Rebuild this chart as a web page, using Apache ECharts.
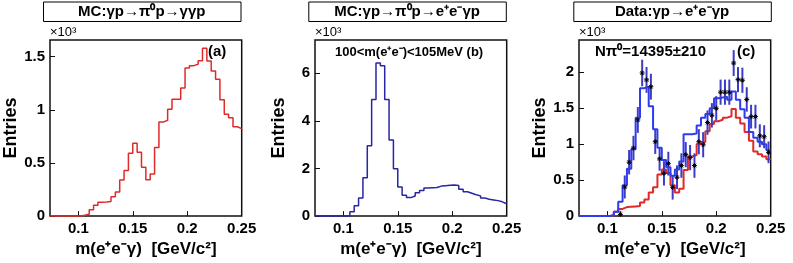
<!DOCTYPE html>
<html><head><meta charset="utf-8">
<script src="https://cdn.jsdelivr.net/npm/echarts@6/dist/echarts.min.js"></script>
<style>html,body{margin:0;padding:0;background:#fff}#c{width:793px;height:263px}</style>
</head><body><div id="c"></div>
<script>
// Binning (44 bins of 4 MeV from 0.074 to 0.25 GeV)
const binMin = 0.074, binWidth = 0.004, nBins = 44;
const xMin = 0.074, xMax = 0.25;
const xTicks = [0.1, 0.15, 0.2, 0.25];
const yTicksA = [0, 500, 1000, 1500];
const yTicksB = [0, 2000, 4000, 6000];
const yTicksC = [0, 500, 1000, 1500, 2000];
const yMaxA = 1656, yMaxB = 7400, yMaxC = 2450;

// (a) MC pi0 -> gamma gamma
const histA = [0,0,0,0,0,0,0,8,18,60,103,130,133,138,181,227,339,429,591,684,600,460,342,395,645,885,900,1005,1100,1100,1205,1392,1415,1428,1462,1578,1458,1365,1288,1095,957,926,840,823];
// (b) MC pi0 -> e+e- gamma
const histB = [0,0,0,0,0,0,0,15,180,430,764,1611,2958,4903,6431,6320,4903,3194,1986,1222,875,778,847,986,1080,1180,1190,1200,1260,1280,1300,1310,1290,1125,1020,960,900,850,760,710,680,650,600,520];
// (c) background (red) and total fit (blue)
const histCred = [0,0,0,0,0,0,0,10,60,100,125,130,135,140,190,230,330,400,580,650,600,430,330,380,640,830,850,1000,1030,1180,1280,1320,1340,1370,1390,1490,1370,1290,1170,1050,900,860,830,790];
const histCblue = [0,0,0,0,0,0,0,15,60,200,430,660,930,1370,1780,1800,1530,1210,950,780,680,560,650,760,1140,1140,1150,1260,1370,1420,1500,1640,1650,1660,1620,1735,1620,1485,1370,1170,1090,1035,1000,920];
// (c) data points, first point is in bin index 9
const dataFirstBin = 9;
const dataC = [23,405,750,947,1338,1991,1895,1800,1035,796,595,730,400,540,703,855,814,703,1035,993,1301,1402,1499,1724,1724,1724,2129,1899,1890,1623,1384,1384,1117,1104,887];
const dataCerr = [50,160,170,170,180,185,180,180,170,165,170,165,170,165,170,175,175,170,175,175,170,170,170,175,175,175,180,175,175,170,165,165,160,160,150];

const titles = ['MC:γp→π⁰p→γγp', 'MC:γp→π⁰p→e⁺e⁻γp', 'Data:γp→e⁺e⁻γp'];
const xTitle = 'm(e⁺e⁻γ)  [GeV/c²]';
const yTitle = 'Entries';

const FONT = '"Liberation Sans", Arial, Helvetica, sans-serif';
const edges = Array.from({length: nBins + 1}, (_, i) => +(binMin + i * binWidth).toFixed(4));
function stepData(vals) {
  const d = vals.map((v, i) => [edges[i], v]);
  d.push([edges[nBins], vals[nBins - 1]]);
  return d;
}
const pointData = dataC.map((v, i) => [+(binMin + (dataFirstBin + i + 0.5) * binWidth).toFixed(4), v, dataCerr[i]]);

const panelLeft = [50, 315, 579];
const gridW = 191.7, gridTop = 40, gridH = 177.7;

const grids = panelLeft.map(l => ({left: l, top: gridTop, width: gridW, height: gridH,
  show: true, borderColor: '#111', borderWidth: 1.5, backgroundColor: 'transparent', containLabel: false}));

const xAxes = [0, 1, 2].map(i => ({
  type: 'value', gridIndex: i, min: xMin, max: xMax,
  axisLine: {show: false}, splitLine: {show: false},
  axisTick: {show: true, inside: true, length: 5, customValues: xTicks, lineStyle: {color: '#111', width: 1}},
  axisLabel: {show: true, customValues: xTicks, margin: 5, fontFamily: FONT, fontWeight: 'bold', fontSize: 15, color: '#000',
    formatter: v => String(+(+v).toFixed(3))},
  name: xTitle, nameLocation: 'middle', nameGap: 22,
  nameTextStyle: {fontFamily: FONT, fontWeight: 'bold', fontSize: 17, color: '#000'}
}));
const yTicks = [yTicksA, yTicksB, yTicksC];
const yMax = [yMaxA, yMaxB, yMaxC];
const yAxes = [0, 1, 2].map(i => ({
  type: 'value', gridIndex: i, min: 0, max: yMax[i],
  axisLine: {show: false}, splitLine: {show: false},
  axisTick: {show: true, inside: true, length: 5, customValues: yTicks[i], lineStyle: {color: '#111', width: 1}},
  axisLabel: {show: true, customValues: yTicks[i], margin: 5, fontFamily: FONT, fontWeight: 'bold', fontSize: 15, color: '#000',
    formatter: v => String(+(v / 1000).toFixed(2))},
  name: yTitle, nameLocation: 'middle', nameGap: 27, nameRotate: 90,
  nameTextStyle: {fontFamily: FONT, fontWeight: 'bold', fontSize: 18, color: '#000'}
}));

function hist(idx, vals, color, width) {
  return {type: 'line', xAxisIndex: idx, yAxisIndex: idx, data: stepData(vals), step: 'end',
    symbol: 'none', clip: false, lineStyle: {color: color, width: width}, silent: true, z: 3};
}

const series = [
  hist(0, histA, '#df2a2a', 1.5),
  hist(1, histB, '#2626a6', 1.5),
  hist(2, histCred, '#e02a2a', 2),
  hist(2, histCblue, '#2d3cf2', 2),
  {
    type: 'custom', xAxisIndex: 2, yAxisIndex: 2, data: pointData, z: 5, silent: true,
    renderItem: function (params, api) {
      const x = api.value(0), y = api.value(1), e = api.value(2);
      const p = api.coord([x, y]);
      const lo = api.coord([x, Math.max(0, y - e)]);
      const hi = api.coord([x, y + e]);
      const s = 2.5;
      return {type: 'group', children: [
        {type: 'line', shape: {x1: p[0], y1: lo[1], x2: p[0], y2: hi[1]}, style: {stroke: '#3c3cc6', lineWidth: 2}},
        {type: 'line', shape: {x1: p[0] - s, y1: p[1], x2: p[0] + s, y2: p[1]}, style: {stroke: '#000', lineWidth: 1}},
        {type: 'line', shape: {x1: p[0], y1: p[1] - s, x2: p[0], y2: p[1] + s}, style: {stroke: '#000', lineWidth: 1}},
        {type: 'line', shape: {x1: p[0] - s * 0.7, y1: p[1] - s * 0.7, x2: p[0] + s * 0.7, y2: p[1] + s * 0.7}, style: {stroke: '#000', lineWidth: 1}},
        {type: 'line', shape: {x1: p[0] - s * 0.7, y1: p[1] + s * 0.7, x2: p[0] + s * 0.7, y2: p[1] - s * 0.7}, style: {stroke: '#000', lineWidth: 1}}
      ]};
    }
  }
];

const boxLeft = [43, 308.3, 573.3], boxW = 197.5;
const graphic = [];
for (let i = 0; i < 3; i++) {
  graphic.push({type: 'rect', left: boxLeft[i], top: 1.5, shape: {width: boxW, height: 19.5},
    style: {fill: '#fff', stroke: '#000', lineWidth: 1}, z: 10});
  graphic.push({type: 'text', x: boxLeft[i] + boxW / 2, y: 11.5, z: 11,
    style: {text: titles[i], font: 'bold 15px ' + FONT, fill: '#000', align: 'center', verticalAlign: 'middle'}});
  graphic.push({type: 'text', x: panelLeft[i], y: 39, z: 11,
    style: {text: '×10³', font: '13px ' + FONT, fill: '#000', align: 'left', verticalAlign: 'bottom'}});
}
graphic.push({type: 'text', x: 208, y: 52, z: 11, style: {text: '(a)', font: 'bold 15px ' + FONT, fill: '#000', verticalAlign: 'middle'}});
graphic.push({type: 'text', x: 335, y: 52, z: 11, style: {text: '100<m(e⁺e⁻)<105MeV (b)', font: 'bold 13px ' + FONT, fill: '#000', verticalAlign: 'middle'}});
graphic.push({type: 'text', x: 595, y: 52, z: 11, style: {text: 'Nπ⁰=14395±210', font: 'bold 15px ' + FONT, fill: '#000', verticalAlign: 'middle'}});
graphic.push({type: 'text', x: 737, y: 52, z: 11, style: {text: '(c)', font: 'bold 15px ' + FONT, fill: '#000', verticalAlign: 'middle'}});

const chart = echarts.init(document.getElementById('c'), null, {renderer: 'canvas'});
chart.setOption({animation: false, backgroundColor: '#fff', grid: grids, xAxis: xAxes, yAxis: yAxes, series: series, graphic: graphic});
</script>
</body></html>
